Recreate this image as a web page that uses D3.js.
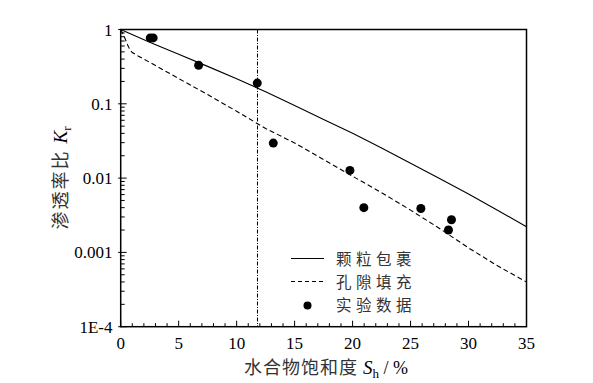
<!DOCTYPE html>
<html><head><meta charset="utf-8">
<script src="https://cdn.jsdelivr.net/npm/d3@7"></script>
<style>body{margin:0;background:#fff}</style>
</head><body><svg id="c" width="593" height="383"></svg>
<script>
// Data
const coatS = [0, 2.5, 5, 7.5, 10, 12.5, 15, 17.5, 20, 22.5, 25, 27.5, 30, 32.5, 35];
const coatK = [1, 0.676, 0.465, 0.319, 0.218, 0.145, 0.0948, 0.0617, 0.0401, 0.0255, 0.0158, 0.00985, 0.0061, 0.0037, 0.00222];
const fillS = [0, 0.2, 0.4, 0.6, 0.8, 1.0, 1.5, 2, 3, 5, 7.5, 10, 12.5, 15, 17.5, 20, 22.5, 25, 27.5, 30, 32.5, 35];
const fillK = [1, 0.87, 0.74, 0.62, 0.53, 0.49, 0.44, 0.40, 0.327, 0.219, 0.133, 0.0795, 0.0465, 0.0297, 0.0178, 0.0106, 0.00636, 0.00371, 0.0021, 0.00115, 0.00066, 0.0004];
const expS = [2.55, 2.8, 6.72, 11.78, 13.16, 19.77, 20.97, 25.89, 28.53, 28.27];
const expK = [0.77, 0.77, 0.33, 0.19, 0.0296, 0.0127, 0.0040, 0.0039, 0.00275, 0.0020];
const thresholdS = 11.8;
const xTicks = [0, 5, 10, 15, 20, 25, 30, 35];
const yTicks = [1, 0.1, 0.01, 0.001, 1e-4];
const yTickLabels = ["1", "0.1", "0.01", "0.001", "1E-4"];
const legendLabels = ["颗粒包裹", "孔隙填充", "实验数据"];

const svg = d3.select("#c");
const L = 120.7, R = 526.5, T = 29.5, B = 326.7;
const x = d3.scaleLinear().domain([0, 35]).range([L, R]);
const y = d3.scaleLog().domain([1e-4, 1]).range([B, T]);
const serif = "'Liberation Serif','Times New Roman',serif";
const cjk = "'Noto Sans CJK SC','Noto Sans CJK JP',sans-serif";

svg.append("clipPath").attr("id", "clip").append("rect")
  .attr("x", L).attr("y", T).attr("width", R - L).attr("height", B - T);

const g = svg.append("g");
d3.range(0, 36, 1).forEach(v => {
  const major = v % 5 === 0;
  g.append("line").attr("x1", x(v)).attr("x2", x(v))
    .attr("y1", B).attr("y2", B - (major ? 6 : 3.5))
    .attr("stroke", "#000").attr("stroke-width", 1);
});
xTicks.forEach(v => {
  g.append("text").attr("x", x(v)).attr("y", 348.5).attr("text-anchor", "middle")
    .attr("font-family", serif).attr("font-size", 17).text(v);
});
for (let e = -4; e < 0; e++) {
  for (let m = 2; m <= 9; m++) {
    const v = m * Math.pow(10, e);
    g.append("line").attr("x1", L).attr("x2", L + 4)
      .attr("y1", y(v)).attr("y2", y(v)).attr("stroke", "#000").attr("stroke-width", 1);
  }
}
yTicks.forEach((v, i) => {
  g.append("line").attr("x1", L - 2.5).attr("x2", L + 6)
    .attr("y1", y(v)).attr("y2", y(v)).attr("stroke", "#000").attr("stroke-width", 1);
  g.append("text").attr("x", 112.5).attr("y", y(v) + 6).attr("text-anchor", "end")
    .attr("font-family", serif).attr("font-size", 17).text(yTickLabels[i]);
});

svg.append("rect").attr("x", L).attr("y", T).attr("width", R - L).attr("height", B - T)
  .attr("fill", "none").attr("stroke", "#000").attr("stroke-width", 1.5);

svg.append("line").attr("x1", x(thresholdS)).attr("x2", x(thresholdS))
  .attr("y1", T).attr("y2", B).attr("stroke", "#000").attr("stroke-width", 1)
  .attr("stroke-dasharray", "4,1.5,1,1.5");

const line = d3.line().x(d => x(d[0])).y(d => y(d[1]));
const pc = svg.append("g").attr("clip-path", "url(#clip)");
pc.append("path").datum(coatS.map((s, i) => [s, coatK[i]])).attr("d", line)
  .attr("fill", "none").attr("stroke", "#000").attr("stroke-width", 1.1);
pc.append("path").datum(fillS.map((s, i) => [s, fillK[i]])).attr("d", line)
  .attr("fill", "none").attr("stroke", "#000").attr("stroke-width", 1.1)
  .attr("stroke-dasharray", "5,3");
svg.append("g").selectAll("circle").data(expS.map((s, i) => [s, expK[i]])).join("circle")
  .attr("cx", d => x(d[0])).attr("cy", d => y(d[1])).attr("r", 4.5).attr("fill", "#000");

const lg = svg.append("g");
const ly = [258.5, 281.5, 304.5];
lg.append("line").attr("x1", 291).attr("x2", 324).attr("y1", ly[0]).attr("y2", ly[0])
  .attr("stroke", "#000").attr("stroke-width", 1.1);
lg.append("line").attr("x1", 291).attr("x2", 324).attr("y1", ly[1]).attr("y2", ly[1])
  .attr("stroke", "#000").attr("stroke-width", 1.1).attr("stroke-dasharray", "4,3");
lg.append("circle").attr("cx", 307.5).attr("cy", ly[2] + 1).attr("r", 4).attr("fill", "#000");
legendLabels.forEach((t, i) => {
  lg.append("text").attr("x", 336).attr("y", ly[i] + 6)
    .attr("font-family", cjk).attr("font-size", 15.5).attr("letter-spacing", 4.5)
    .attr("fill", "#333").text(t);
});

const xt = svg.append("text").attr("x", 326).attr("y", 374).attr("text-anchor", "middle")
  .attr("font-family", cjk).attr("font-size", 18).attr("fill", "#333");
xt.append("tspan").attr("letter-spacing", 1).text("水合物饱和度 ");
xt.append("tspan").attr("font-family", serif).attr("font-style", "italic").attr("font-size", 19).attr("fill", "#000").text("S");
xt.append("tspan").attr("font-family", serif).attr("font-size", 13).attr("dy", 4).attr("fill", "#000").text("h");
xt.append("tspan").attr("font-family", serif).attr("font-size", 18).attr("dy", -4).attr("fill", "#000").text(" / %");

const yt = svg.append("text").attr("transform", "translate(67,178) rotate(-90)")
  .attr("text-anchor", "middle").attr("font-family", cjk).attr("font-size", 18).attr("fill", "#333");
yt.append("tspan").attr("letter-spacing", 2).text("渗透率比 ");
yt.append("tspan").attr("font-family", serif).attr("font-style", "italic").attr("font-size", 19).attr("fill", "#000").text("K");
yt.append("tspan").attr("font-family", serif).attr("font-size", 13).attr("dy", 4).attr("fill", "#000").text("r");
</script></body></html>
